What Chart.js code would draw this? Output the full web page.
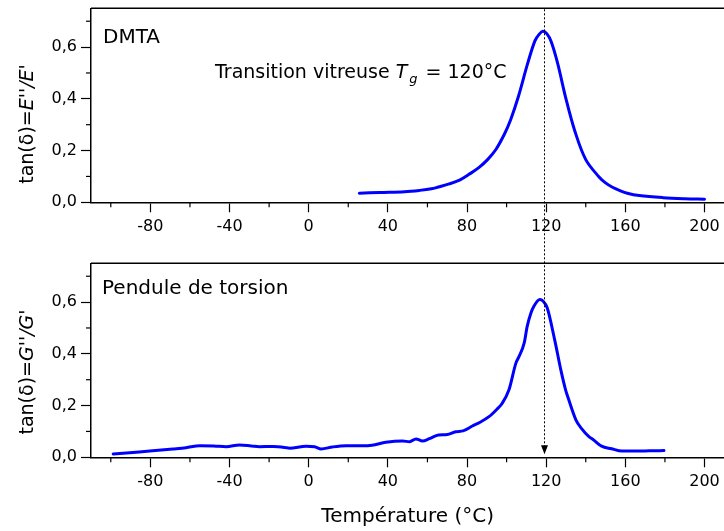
<!DOCTYPE html>
<html><head><meta charset="utf-8">
<script src="https://cdn.jsdelivr.net/npm/chart.js@4/dist/chart.umd.min.js"></script>
<style>
html,body{margin:0;padding:0;background:#fff;overflow:hidden;width:724px;height:531px;}
#wrap{position:relative;width:724px;height:531px;overflow:hidden;background:#fff;}
canvas{position:absolute;left:0;top:0;}
</style></head><body>
<div id="wrap"><canvas id="cTop" width="760" height="531"></canvas><canvas id="cBot" width="760" height="531"></canvas></div>
<script>
// ---- data ----
const dmtaTemp = [25.6,36,48.4,56,62,65.5,71,76.5,81,86.1,90.5,94.5,98.8,102,106,110.5,114.3,116.5,118.3,120.3,122.5,125.7,130,134.5,140,146.6,150,153.5,157,161,167,179,190,200];
const dmtaTan  = [0.035,0.038,0.041,0.046,0.052,0.059,0.071,0.087,0.108,0.135,0.166,0.203,0.262,0.318,0.410,0.533,0.624,0.650,0.661,0.652,0.622,0.540,0.400,0.275,0.165,0.099,0.075,0.058,0.046,0.035,0.026,0.018,0.014,0.012];
const pendTemp = [-98.8,-88.8,-80.3,-68.6,-62,-55.1,-48,-41.7,-34.9,-29,-24.9,-18,-12,-9.7,-1.3,3,6.3,12,18.9,27.2,32,39,47.4,51,54.2,57.5,61,65.6,70,74.3,78,82.7,86,91.1,95,97.8,101.2,104.7,106.3,108.9,110.4,112.3,113.8,116.8,118.5,120.5,124.4,127.4,129.8,131,135,138,141.6,143.5,148,153,158.3,166.8,172,179.5];
const pendTan  = [0.013,0.019,0.024,0.032,0.037,0.045,0.044,0.041,0.048,0.044,0.041,0.042,0.038,0.035,0.043,0.041,0.032,0.040,0.045,0.045,0.047,0.058,0.063,0.060,0.071,0.063,0.072,0.086,0.088,0.099,0.102,0.121,0.133,0.157,0.185,0.209,0.261,0.364,0.390,0.442,0.506,0.558,0.584,0.610,0.603,0.578,0.450,0.338,0.261,0.232,0.145,0.110,0.080,0.070,0.043,0.033,0.024,0.024,0.025,0.026];
const xTickValues  = [-80,-40,0,40,80,120,160,200];
const xMinorValues = [-100,-60,-20,20,60,100,140,180];
const yTickValues  = [0,0.2,0.4,0.6];
const yMinorValues = [0.1,0.3,0.5,0.7];
const xRange = [-110, 210];
const yRange = [0, 0.75];
const tgMark = 118.7;
const labelTop = 'DMTA';
const labelBottom = 'Pendule de torsion';
const xTitle = 'Température (°C)';

// ---- layout ----
const W = 760, H = 531, FONT = "'DejaVu Sans', sans-serif";
Chart.defaults.font.family = FONT;
Chart.defaults.color = '#000';

function toXY(xs, ys){ return xs.map((x,i)=>({x:x, y:ys[i]})); }

function makeOptions(padTop, padBottom){
  return {
    responsive:false, animation:false, events:[],
    layout:{padding:{left:0, top:padTop, right:W-724.3, bottom:padBottom}},
    plugins:{legend:{display:false}, tooltip:{enabled:false}},
    scales:{
      x:{type:'linear', min:xRange[0], max:xRange[1],
         afterBuildTicks:s=>{ s.ticks = xTickValues.map(v=>({value:v})); },
         afterFit:s=>{ s.height = 40; s.paddingLeft = 0; s.paddingRight = 0; },
         ticks:{font:{size:16}, color:'#000', padding:5, maxRotation:0, autoSkip:false, callback:v=>String(v)},
         grid:{drawOnChartArea:false, drawTicks:true, tickLength:10, tickColor:'#000', tickWidth:1.2},
         border:{display:true, color:'#000', width:1.5}},
      y:{type:'linear', min:yRange[0], max:yRange[1],
         afterBuildTicks:s=>{ s.ticks = yTickValues.map(v=>({value:v})); },
         afterFit:s=>{ s.width = 91; s.paddingTop = 0; s.paddingBottom = 0; },
         ticks:{font:{size:16}, color:'#000', padding:4, autoSkip:false, callback:v=>Number(v).toFixed(1).replace('.',',')},
         grid:{drawOnChartArea:false, drawTicks:true, tickLength:10, tickColor:'#000', tickWidth:1.2},
         border:{display:true, color:'#000', width:1.5}}
    }
  };
}

function drawFrameAndMinor(c){
  const ctx=c.ctx, a=c.chartArea, sx=c.scales.x, sy=c.scales.y;
  ctx.save();
  ctx.strokeStyle='#000'; ctx.lineWidth=1.5;
  ctx.beginPath(); ctx.moveTo(a.left, a.top); ctx.lineTo(a.right+2, a.top); ctx.stroke();
  ctx.lineWidth=1.2;
  xMinorValues.forEach(v=>{ const p=sx.getPixelForValue(v); ctx.beginPath(); ctx.moveTo(p, a.bottom); ctx.lineTo(p, a.bottom+5); ctx.stroke(); });
  yMinorValues.forEach(v=>{ const p=sy.getPixelForValue(v); ctx.beginPath(); ctx.moveTo(a.left, p); ctx.lineTo(a.left-5, p); ctx.stroke(); });
  ctx.restore();
}

function drawRich(ctx, pieces, x, y){
  let cx = x;
  pieces.forEach(p=>{
    ctx.font = p.f;
    cx += (p.pre||0);
    ctx.fillText(p.t, cx, y + (p.dy||0));
    cx += ctx.measureText(p.t).width;
  });
  return cx - x;
}
function richWidth(ctx, pieces){
  let w=0; pieces.forEach(p=>{ ctx.font=p.f; w += (p.pre||0) + ctx.measureText(p.t).width; }); return w;
}
function drawYTitle(ctx, pieces, x, cy){
  ctx.save();
  ctx.translate(x, cy); ctx.rotate(-Math.PI/2);
  ctx.fillStyle='#000'; ctx.textBaseline='alphabetic'; ctx.textAlign='left';
  const w = richWidth(ctx, pieces);
  drawRich(ctx, pieces, -w/2, 0);
  ctx.restore();
}

const topDeco = {id:'topDeco', afterDraw(c){
  drawFrameAndMinor(c);
  const ctx=c.ctx, a=c.chartArea;
  ctx.save(); ctx.fillStyle='#000'; ctx.textBaseline='alphabetic'; ctx.textAlign='left';
  ctx.font = '20px '+FONT; ctx.fillText(labelTop, a.left+12, a.top+34.5);
  drawRich(ctx, [
    {t:'Transition vitreuse ', f:'19px '+FONT},
    {t:'T', f:'italic 19px '+FONT},
    {t:'g', f:'italic 13px '+FONT, dy:5, pre:2},
    {t:' = 120°C', f:'19px '+FONT, pre:2}
  ], 215, 77.5);
  ctx.restore();
  drawYTitle(ctx, [
    {t:'tan(δ)=', f:'19px '+FONT},
    {t:"E''/E'", f:'italic 19px '+FONT}
  ], 33, 124);
}};

const topChart = new Chart(document.getElementById('cTop'), {
  type:'line',
  data:{datasets:[{data:toXY(dmtaTemp, dmtaTan), borderColor:'#0000FF', borderWidth:3, pointRadius:0, tension:0.35, fill:false, borderCapStyle:'round', borderJoinStyle:'round'}]},
  options: makeOptions(8.3, H-202.3-40),
  plugins:[topDeco]
});

const botDeco = {id:'botDeco', afterDraw(c){
  drawFrameAndMinor(c);
  const ctx=c.ctx, a=c.chartArea, sx=c.scales.x;
  ctx.save(); ctx.fillStyle='#000'; ctx.textBaseline='alphabetic'; ctx.textAlign='left';
  ctx.font = '20px '+FONT; ctx.fillText(labelBottom, a.left+11, a.top+31);
  ctx.font = '20px '+FONT; ctx.textAlign='center';
  ctx.fillText(xTitle, (a.left+a.right)/2, 521.5);
  ctx.restore();
  drawYTitle(ctx, [
    {t:'tan(δ)=', f:'19px '+FONT},
    {t:"G''/G'", f:'italic 19px '+FONT}
  ], 33, 372);
  // dotted Tg marker spanning both panels, arrow at bottom
  const px = Math.round(sx.getPixelForValue(tgMark)) + 0.5;
  const y0 = topChart.chartArea.top + 1;
  const yTip = a.bottom - 3;
  ctx.save();
  ctx.strokeStyle='#000'; ctx.lineWidth=1; ctx.setLineDash([2,2]);
  ctx.beginPath(); ctx.moveTo(px, y0); ctx.lineTo(px, yTip-7); ctx.stroke();
  ctx.setLineDash([]); ctx.fillStyle='#000';
  ctx.beginPath(); ctx.moveTo(px-3.5, yTip-9); ctx.lineTo(px+3.5, yTip-9); ctx.lineTo(px, yTip); ctx.closePath(); ctx.fill();
  ctx.restore();
}};

const botChart = new Chart(document.getElementById('cBot'), {
  type:'line',
  data:{datasets:[{data:toXY(pendTemp, pendTan), borderColor:'#0000FF', borderWidth:3, pointRadius:0, cubicInterpolationMode:'monotone', fill:false, borderCapStyle:'round', borderJoinStyle:'round'}]},
  options: makeOptions(263.3, H-457.3-40),
  plugins:[botDeco]
});
</script>
</body></html>
